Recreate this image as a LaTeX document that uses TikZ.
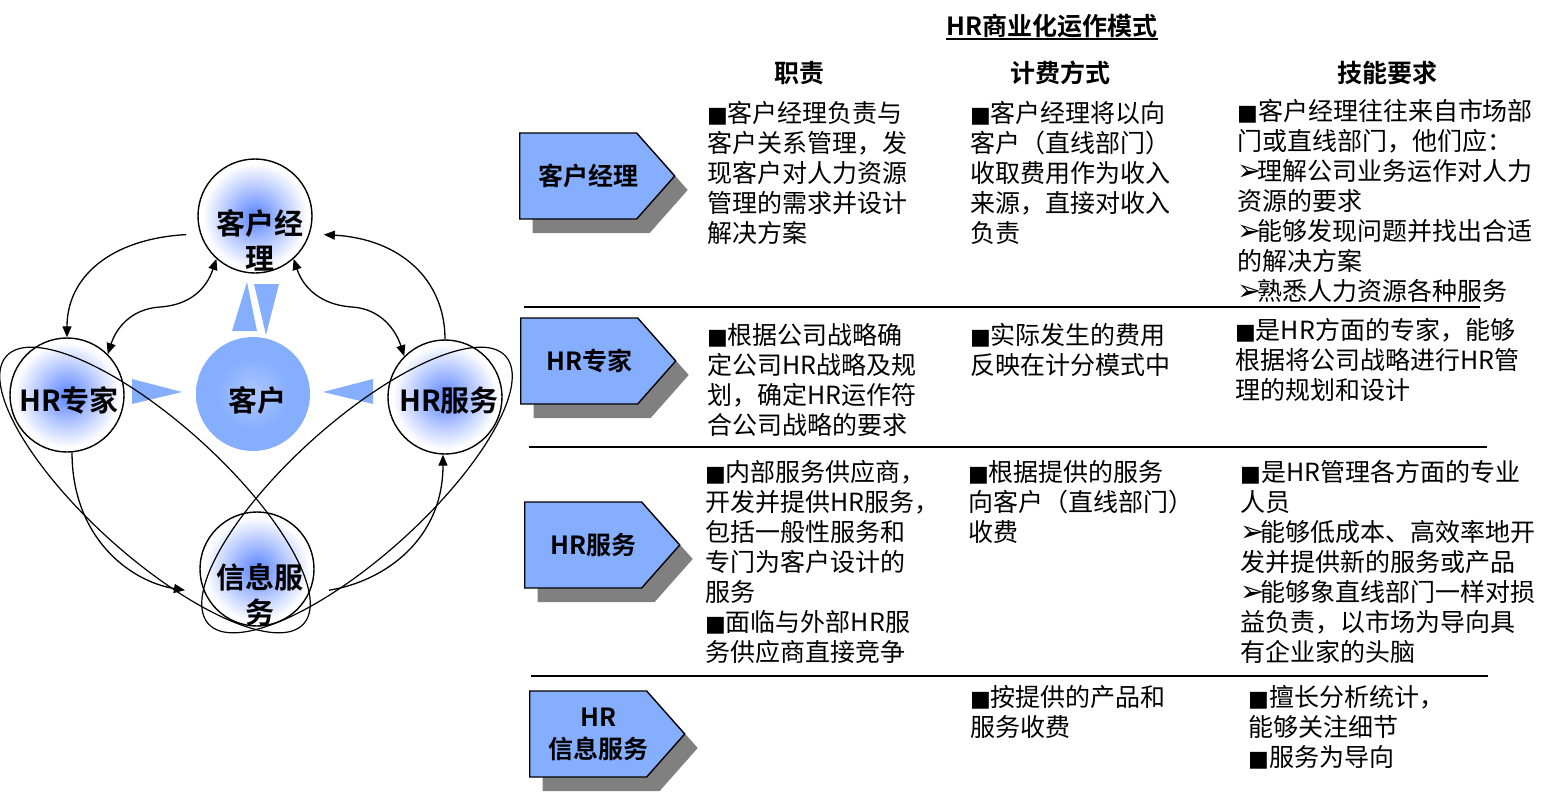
\documentclass[tikz,border=0pt]{standalone}
\usepackage{fontspec}
\setmainfont{Noto Sans CJK SC}[BoldFont={Noto Sans CJK SC Bold}]
\newfontfamily\symfont{DejaVu Sans}
\usetikzlibrary{shapes.symbols,shadows,arrows.meta}

\definecolor{boxblue}{RGB}{133,174,255}
\definecolor{ballblue}{RGB}{112,148,255}
\definecolor{clientin}{RGB}{176,200,255}
\definecolor{shadowgray}{RGB}{128,128,128}
\pgfdeclareradialshading{roleball}{\pgfpointorigin}{color(0bp)=(ballblue); color(3bp)=(ballblue); color(23bp)=(white); color(50bp)=(white)}
\pgfdeclareradialshading{clientball}{\pgfpointorigin}{color(0bp)=(clientin); color(16bp)=(boxblue); color(50bp)=(boxblue)}

\newcommand{\sqb}{{\symfont\fontsize{22}{30}\selectfont ■}}
\newcommand{\arr}{{\symfont\fontsize{29}{30}\selectfont ➢}\kern-4pt}

\tikzset{
  role/.style={circle, draw, line width=1.4pt, minimum size=114pt, inner sep=0pt, shading=roleball},
  tag/.style={font=\bfseries\fontsize{29}{35}\selectfont, align=center, inner sep=0pt},
  rolebox/.style={signal, signal to=east, signal pointer angle=97, draw, line width=1.4pt, fill=boxblue,
    minimum width=155pt, minimum height=86pt, inner sep=0pt, anchor=west,
    drop shadow={shadow xshift=13pt, shadow yshift=-14pt, fill=shadowgray, opacity=1},
    label={[font=\bfseries\fontsize{25}{32}\selectfont, align=center, inner sep=0pt, xshift=10pt]center:#1}},
  head/.style={font=\bfseries\fontsize{25}{30}\selectfont, inner sep=0pt},
  cell/.style={anchor=north west, inner sep=0pt, align=left, font=\fontsize{25}{30}\selectfont},
  link/.style={line width=1.3pt, -{Triangle[length=11pt,width=9pt]}},
  twoway/.style={line width=1.3pt, {Triangle[length=11pt,width=9pt]}-{Triangle[length=11pt,width=9pt]}},
  wedge/.style={fill=boxblue},
  swirl/.style={line width=1.2pt},
  rule/.style={line width=1.6pt}
}

\begin{document}
\begin{tikzpicture}[x=1pt,y=-1pt]
\useasboundingbox (0,0) rectangle (1553,792);

% wheel
\node[role] (km) at (255,216) {};
\node[role] (zj) at (67,395) {};
\node[role] (fw) at (445,397) {};
\node[role] (xx) at (257,569) {};
\node[circle, minimum size=114pt, inner sep=0pt, shading=clientball] (kh) at (253,394) {};

\fill[wedge] (232,331) -- (257,331) -- (247,282) -- cycle;
\fill[wedge] (254,284) -- (279,284) -- (266,335) -- cycle;
\fill[wedge] (132,379) -- (132,404) -- (182,392) -- cycle;
\fill[wedge] (373,379) -- (373,404) -- (323,392) -- cycle;

\draw[link, shorten <=14pt] (km.198) .. controls +(-90,5) and +(0,-60) .. (zj.north);
\draw[link, shorten >=14pt] (fw.north) .. controls +(0,-60) and +(90,5) .. (km.-18);
\draw[twoway] (km.228) .. controls +(-10,30) and +(30,-2) .. (160,307) .. controls +(-30,2) and +(8,-25) .. (zj.45);
\draw[twoway] (km.-48) .. controls +(10,30) and +(-30,-2) .. (352,307) .. controls +(30,2) and +(-8,-25) .. (fw.135);
\draw[link, shorten >=20pt] (zj.275) .. controls +(0,85) and +(-75,-12) .. (xx.205);
\draw[link, shorten <=20pt] (xx.-25) .. controls +(75,-12) and +(0,85) .. (fw.268);

\draw[swirl, rotate around={-42:(155,490)}] (155,490) ellipse [x radius=200, y radius=67];
\draw[swirl, rotate around={42:(357,490)}] (357,490) ellipse [x radius=200, y radius=67];

\node[tag] at ([xshift=5pt,yshift=-24pt]km.center) {客户经\\理};
\node[tag] at ([xshift=2pt,yshift=-5pt]zj.center) {HR专家};
\node[tag] at ([xshift=4pt,yshift=-3pt]fw.center) {HR服务};
\node[tag] at ([xshift=3pt,yshift=-26pt]xx.center) {信息服\\务};
\node[tag] at ([xshift=4pt,yshift=-6pt]kh.center) {客户};

% table
\node[head] (title) at (1052,26) {HR商业化运作模式};
\draw[line width=1.5pt] ([yshift=-3.5pt]title.base west) -- ([yshift=-3.5pt]title.base east);
\node[head] (duty) at (799,73) {职责};
\node[head] (fee) at (1060,73) {计费方式};
\node[head] (skill) at (1387,73) {技能要求};

\node[rolebox=客户经理] (b1) at (519,176) {};
\node[rolebox=HR专家] (b2) at (520,361) {};
\node[rolebox=HR服务] (b3) at (524,545) {};
\node[rolebox={HR\\信息服务}] (b4) at (529,734) {};

\draw[rule] (524,307) -- (1480,307);
\draw[rule] (529,447) -- (1487,447);
\draw[rule] (531,676) -- (1488,676);

\node[cell] (d1) at (707,101) {\sqb{}客户经理负责与\\客户关系管理，发\\现客户对人力资源\\管理的需求并设计\\解决方案};
\node[cell] (f1) at (970,101) {\sqb{}客户经理将以向\\客户（直线部门）\\收取费用作为收入\\来源，直接对收入\\负责};
\node[cell] (s1) at (1237,99) {\sqb{}客户经理往往来自市场部\\门或直线部门，他们应：\\\arr{}理解公司业务运作对人力\\资源的要求\\\arr{}能够发现问题并找出合适\\的解决方案\\\arr{}熟悉人力资源各种服务};

\node[cell] (d2) at (707,323) {\sqb{}根据公司战略确\\定公司HR战略及规\\划，确定HR运作符\\合公司战略的要求};
\node[cell] (f2) at (970,323) {\sqb{}实际发生的费用\\反映在计分模式中};
\node[cell] (s2) at (1235,318) {\sqb{}是HR方面的专家，能够\\根据将公司战略进行HR管\\理的规划和设计};

\node[cell] (d3) at (705,460) {\sqb{}内部服务供应商，\\开发并提供HR服务，\\包括一般性服务和\\专门为客户设计的\\服务\\\sqb{}面临与外部HR服\\务供应商直接竞争};
\node[cell] (f3) at (968,460) {\sqb{}根据提供的服务\\向客户（直线部门）\\收费};
\node[cell] (s3) at (1240,460) {\sqb{}是HR管理各方面的专业\\人员\\\arr{}能够低成本、高效率地开\\发并提供新的服务或产品\\\arr{}能够象直线部门一样对损\\益负责，以市场为导向具\\有企业家的头脑};

\node[cell] (f4) at (970,685) {\sqb{}按提供的产品和\\服务收费};
\node[cell] (s4) at (1248,685) {\sqb{}擅长分析统计，\\能够关注细节\\\sqb{}服务为导向};
\end{tikzpicture}
\end{document}
